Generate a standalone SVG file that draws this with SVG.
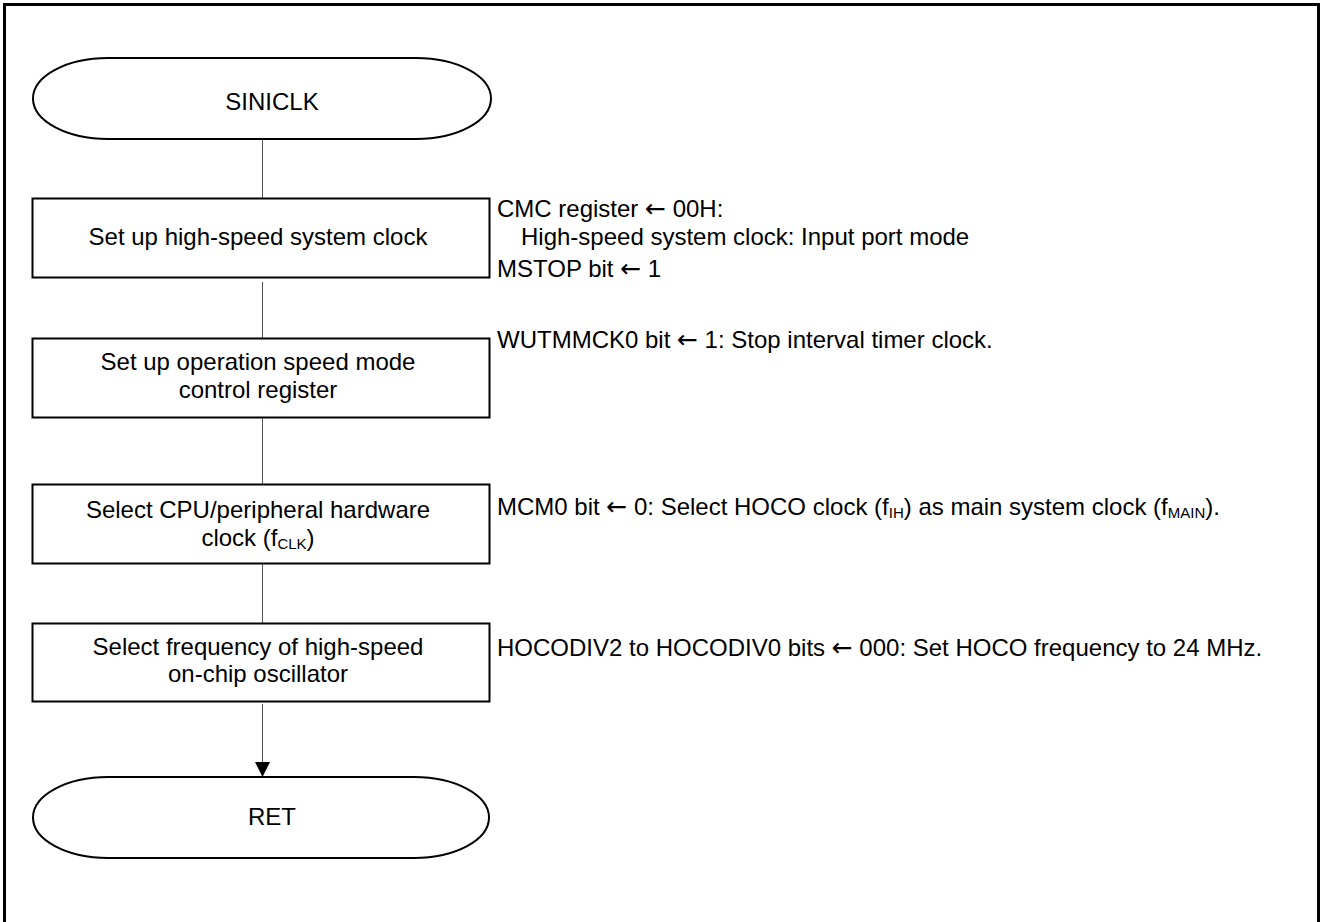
<svg xmlns="http://www.w3.org/2000/svg" width="1325" height="922" viewBox="0 0 1325 922">
<style>
text{font-family:"Liberation Sans",Arial,sans-serif;font-size:24px;fill:#000}
.c{text-anchor:middle}
.box{fill:#fff;stroke:#000;stroke-width:2}
.conn{stroke:#555;stroke-width:1;fill:none}
.sub{font-size:15px}
.ar{font-family:"DejaVu Sans",sans-serif;font-size:25px}
</style>
<defs>
<marker id="arr" markerWidth="16" markerHeight="16" refX="15" refY="7.5" orient="auto" markerUnits="userSpaceOnUse">
<path d="M0,0 L15,7.5 L0,15 Z" fill="#000"/>
</marker>
</defs>
<rect x="4.5" y="4.5" width="1314" height="940" fill="#fff" stroke="#000" stroke-width="3"/>
<g id="connectors">
<line class="conn" x1="262.5" y1="139" x2="262.5" y2="199"/>
<line class="conn" x1="262.5" y1="282" x2="262.5" y2="338"/>
<line class="conn" x1="262.5" y1="418" x2="262.5" y2="484"/>
<line class="conn" x1="262.5" y1="564" x2="262.5" y2="623"/>
<line class="conn" x1="262.5" y1="704" x2="262.5" y2="777" marker-end="url(#arr)"/>
</g>
<g id="start">
<path class="box" d="M108,58 H416 A75,40.5 0 0 1 416,139 H108 A75,40.5 0 0 1 108,58 Z"/>
<text class="c" x="272" y="110">SINICLK</text>
</g>
<g id="step1">
<rect class="box" x="32.5" y="198.5" width="457" height="79"/>
<text class="c" x="258" y="245">Set up high-speed system clock</text>
<text x="497" y="217">CMC register <tspan class="ar">←</tspan> 00H:</text>
<text x="521" y="245">High-speed system clock: Input port mode</text>
<text x="497" y="277">MSTOP bit <tspan class="ar">←</tspan> 1</text>
</g>
<g id="step2">
<rect class="box" x="32.5" y="338.5" width="457" height="79"/>
<text class="c" x="258" y="370">Set up operation speed mode</text>
<text class="c" x="258" y="398">control register</text>
<text x="497" y="348">WUTMMCK0 bit <tspan class="ar">←</tspan> 1: Stop interval timer clock.</text>
</g>
<g id="step3">
<rect class="box" x="32.5" y="484.5" width="457" height="79"/>
<text class="c" x="258" y="518">Select CPU/peripheral hardware</text>
<text class="c" x="258" y="546">clock (f<tspan class="sub" dy="3">CLK</tspan><tspan dy="-3">)</tspan></text>
<text x="497" y="515">MCM0 bit <tspan class="ar">←</tspan> 0: Select HOCO clock (f<tspan class="sub" dy="3">IH</tspan><tspan dy="-3">) as main system clock (f</tspan><tspan class="sub" dy="3">MAIN</tspan><tspan dy="-3">).</tspan></text>
</g>
<g id="step4">
<rect class="box" x="32.5" y="623.5" width="457" height="78"/>
<text class="c" x="258" y="655">Select frequency of high-speed</text>
<text class="c" x="258" y="682">on-chip oscillator</text>
<text x="497" y="656">HOCODIV2 to HOCODIV0 bits <tspan class="ar">←</tspan> 000: Set HOCO frequency to 24 MHz.</text>
</g>
<g id="end">
<path class="box" d="M108,777 H414 A75,40.5 0 0 1 414,858 H108 A75,40.5 0 0 1 108,777 Z"/>
<text class="c" x="272" y="825">RET</text>
</g>
</svg>
